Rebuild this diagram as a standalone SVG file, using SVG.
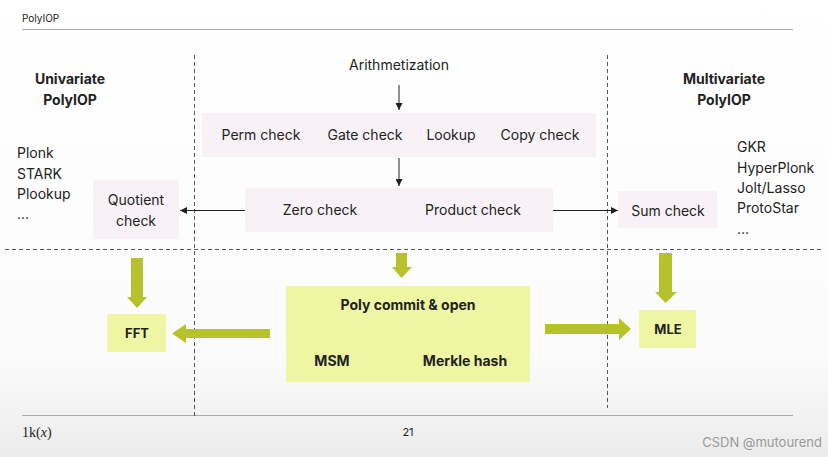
<svg xmlns="http://www.w3.org/2000/svg" width="828" height="457" viewBox="0 0 828 457">
<defs>
<linearGradient id="bg" x1="0" y1="0" x2="0" y2="1">
<stop offset="0" stop-color="#ffffff"/>
<stop offset="0.78" stop-color="#fbfbfb"/>
<stop offset="1" stop-color="#ececec"/>
</linearGradient>
<marker id="ah" viewBox="0 0 10 10" refX="10" refY="5" markerWidth="7" markerHeight="7" markerUnits="userSpaceOnUse" orient="auto">
<path d="M0,0 L10,5 L0,10 z" fill="#222"/>
</marker>
</defs>
<style>
text{font-family:Inter,"Noto Sans","Liberation Sans",sans-serif;fill:#222;font-size:14px}
.b{font-weight:bold}
.c{text-anchor:middle}
.dash{stroke:#555;stroke-width:1;stroke-dasharray:4 3;fill:none}
.gray{fill:#f8f2f6}
.yel{fill:#eff6a3}
.grn{fill:#b5c22b}
.ln{stroke:#222;stroke-width:1;fill:none}
</style>
<rect width="828" height="457" fill="url(#bg)"/>
<text x="22" y="22" style="font-size:10px">PolyIOP</text>
<line x1="22" y1="29.500" x2="793" y2="29.500" stroke="#aaa" stroke-width="1"/>
<line x1="22" y1="415.500" x2="793" y2="415.500" stroke="#aaa" stroke-width="1"/>
<path class="dash" d="M194.500 55 V418 M607.500 55 V408 M5 249.500 H822"/>

<g id="univariate"><text class="b c" x="70" y="84">Univariate</text><text class="b c" x="70" y="105">PolyIOP</text></g>
<g id="uni-list"><text x="17" y="158">Plonk</text><text x="17" y="179">STARK</text><text x="17" y="199">Plookup</text><text x="17" y="219">...</text></g>
<g id="multivariate"><text class="b c" x="724" y="84">Multivariate</text><text class="b c" x="724" y="105">PolyIOP</text></g>
<g id="multi-list"><text x="737" y="152">GKR</text><text x="737" y="173">HyperPlonk</text><text x="737" y="193">Jolt/Lasso</text><text x="737" y="213">ProtoStar</text><text x="737" y="234">...</text></g>

<g id="arithmetization"><text class="c" x="399" y="70">Arithmetization</text></g>
<g id="checks"><rect class="gray" x="202" y="113" width="394" height="44"/>
<text class="c" x="261" y="140">Perm check</text><text class="c" x="365" y="140">Gate check</text><text class="c" x="451" y="140">Lookup</text><text class="c" x="540" y="140">Copy check</text></g>
<g id="zero-product"><rect class="gray" x="245" y="188" width="308" height="44"/>
<text class="c" x="320" y="215">Zero check</text><text class="c" x="473" y="215">Product check</text></g>
<g id="quotient"><rect class="gray" x="93" y="180" width="86" height="59"/>
<text class="c" x="136" y="205">Quotient</text><text class="c" x="136" y="226">check</text></g>
<g id="sumcheck"><rect class="gray" x="618" y="191" width="99" height="37"/>
<text class="c" x="668" y="216">Sum check</text></g>

<g id="fft"><rect class="yel" x="107" y="314" width="59" height="38"/><text class="b c" x="137" y="338" style="font-size:13px">FFT</text></g>
<g id="pcs"><rect class="yel" x="286" y="286" width="244" height="96"/>
<text class="b c" x="408" y="310">Poly commit &amp; open</text>
<text class="b c" x="332" y="366">MSM</text><text class="b c" x="465" y="366">Merkle hash</text></g>
<g id="mle"><rect class="yel" x="639" y="310" width="57" height="38"/><text class="b c" x="668" y="334" style="font-size:13px">MLE</text></g>

<g id="connectors">
<line class="ln" x1="399" y1="85" x2="399" y2="110" marker-end="url(#ah)"/>
<line class="ln" x1="399" y1="158" x2="399" y2="186" marker-end="url(#ah)"/>
<line class="ln" x1="245" y1="210.500" x2="180" y2="210.500" marker-end="url(#ah)"/>
<line class="ln" x1="553" y1="210.500" x2="618" y2="210.500" marker-end="url(#ah)"/>
<path class="grn" d="M131 258 H143 V297 H147 L137 308 L127 297 H131 Z"/>
<path class="grn" d="M396 253 H407 V267 H412 L401.500 278 L392 267 H396 Z"/>
<path class="grn" d="M659 253 H672 V292 H677 L665.500 303 L655 292 H659 Z"/>
<path class="grn" d="M270 329 V338 H186 V343 L172 333.500 L186 324 V329 Z"/>
<path class="grn" d="M545 324 V334 H619 V340 L631 329 L619 318 V324 Z"/>
</g>

<text x="22" y="437" style="font-size:14px;font-family:'Liberation Serif',serif">1k(<tspan font-style="italic">x</tspan>)</text>
<text class="c" x="408" y="436" style="font-size:11px">21</text>
<text x="822" y="447" style="font-size:13px;fill:#999;text-anchor:end">CSDN @mutourend</text>
</svg>
